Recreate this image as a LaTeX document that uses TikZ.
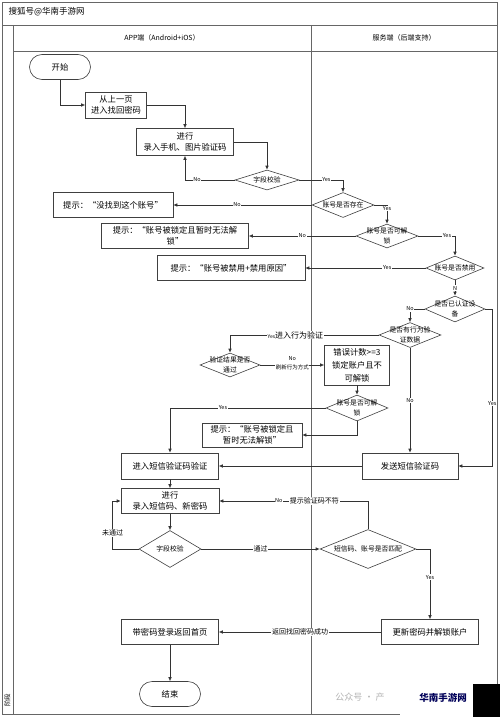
\documentclass[tikz,border=0pt]{standalone}
\usepackage{fontspec}
\setmainfont{Noto Sans CJK SC}
\usetikzlibrary{shapes.geometric,shapes.misc,arrows.meta}
\begin{document}
\begin{tikzpicture}[x=1pt,y=-1pt,
 box/.style={draw=black!75,line width=0.6pt,fill=white,align=center,inner sep=1pt,font=\fontsize{8.3}{11}\selectfont},
 term/.style={box,rounded rectangle,minimum width=63pt,minimum height=25pt},
 dia/.style={diamond,draw=black!75,line width=0.6pt,fill=white,inner sep=0pt},
 dtxt/.style={align=center,inner sep=0pt,font=\fontsize{6.8}{9.5}\selectfont},
 arr/.style={draw=black!80,line width=0.6pt,-{Latex[length=4pt,width=3.5pt]}},
 lbl/.style={fill=white,inner sep=0.6pt,font=\fontsize{5.5}{6}\selectfont},
 lbl2/.style={fill=white,inner sep=0.6pt,font=\fontsize{7}{8}\selectfont},
 frame/.style={draw=black!60,line width=0.8pt}]
\useasboundingbox (0,0) rectangle (500,717);
% frame
\draw[frame] (2,2) rectangle (497,714);
\draw[frame] (2,25) -- (497,25);
\draw[frame] (13,25) -- (13,714);
\draw[frame] (13,51) -- (497,51);
\draw[frame] (311,25) -- (311,714);
\node[anchor=west,font=\fontsize{8.5}{9}\selectfont] (title) at (5,12) {搜狐号@华南手游网};
\node[font=\fontsize{7}{8}\selectfont] (hdr1) at (162,38) {APP端（Android+iOS）};
\node[font=\fontsize{7}{8}\selectfont] (hdr2) at (404,38) {服务端（后端支持）};
\node[rotate=90,font=\fontsize{6.5}{7}\selectfont] (phase) at (7.5,700) {阶段};

% nodes
\node[term] (start) at (60,67) {开始};
\node[box,minimum width=61pt,minimum height=26pt] (prev) at (116,105) {从上一页\\进入找回密码};
\node[box,minimum width=97pt,minimum height=27pt] (enter1) at (185,142) {进行\\录入手机、图片验证码};
\node[dia,minimum width=64pt,minimum height=20pt] (chk1) at (267,180) {};
\node[dtxt] (chk1t) at (chk1) {字段校验};
\node[dia,minimum width=62pt,minimum height=25pt] (exist) at (343,205) {};
\node[dtxt] (existt) at (exist) {账号是否存在};
\node[box,minimum width=120pt,minimum height=25pt] (notfound) at (113,205) {提示：“没找到这个账号”};
\node[dia,minimum width=62pt,minimum height=24pt] (unlock1) at (387,236) {};
\node[dtxt] (unlock1t) at (unlock1) {账号是否可解\\锁};
\node[box,minimum width=147pt,minimum height=25pt] (locked1) at (175,236) {提示：“账号被锁定且暂时无法解\\锁”};
\node[dia,minimum width=58pt,minimum height=24pt] (banned) at (455,268) {};
\node[dtxt] (bannedt) at (banned) {账号是否禁用};
\node[box,minimum width=148pt,minimum height=25pt] (bannedmsg) at (231,268) {提示：“账号被禁用+禁用原因”};
\node[dia,minimum width=60pt,minimum height=26pt] (device) at (455,309) {};
\node[dtxt] (devicet) at (device) {是否已认证设\\备};
\node[dia,minimum width=62pt,minimum height=25pt] (behav) at (410,335) {};
\node[dtxt] (behavt) at (behav) {是否有行为验\\证数据};
\node[dia,minimum width=60pt,minimum height=24pt] (verify) at (230,365) {};
\node[dtxt] (verifyt) at (verify) {验证结果是否\\通过};
\node[box,minimum width=65pt,minimum height=40pt,font=\fontsize{8.3}{13}\selectfont] (errcount) at (357,365) {错误计数>=3\\锁定账户且不\\可解锁};
\node[dia,minimum width=62pt,minimum height=26pt] (unlock2) at (357,408) {};
\node[dtxt] (unlock2t) at (unlock2) {账号是否可解\\锁};
\node[box,minimum width=100pt,minimum height=24pt] (locked2) at (252,435) {提示：“账号被锁定且\\暂时无法解锁”};
\node[box,minimum width=97pt,minimum height=26pt] (smsenter) at (170,466) {进入短信验证码验证};
\node[box,minimum width=96pt,minimum height=26pt] (sendsms) at (410,466) {发送短信验证码};
\node[box,minimum width=98pt,minimum height=25pt] (enter2) at (170,501) {进行\\录入短信码、新密码};
\node[dia,minimum width=62pt,minimum height=37pt] (chk2) at (170,549) {};
\node[dtxt] (chk2t) at (chk2) {字段校验};
\node[dia,minimum width=96pt,minimum height=39pt] (match) at (368,549) {};
\node[dtxt] (matcht) at (match) {短信码、账号是否匹配};
\node[box,minimum width=97pt,minimum height=25pt] (update) at (430,632) {更新密码并解锁账户};
\node[box,minimum width=97pt,minimum height=25pt] (home) at (170,632) {带密码登录返回首页};
\node[term] (end) at (170,694) {结束};

% connectors
\draw[arr] (start.south) |- (prev.west);
\draw[arr] (prev.east) -| (enter1.north);
\draw[arr] (enter1.east) -| (chk1.north);
\draw[arr] (chk1.west) -| node[lbl,pos=0.38]{No} (enter1.south);
\draw[arr] (chk1.east) -| node[lbl,pos=0.31]{Yes} (exist.north);
\draw[arr] (exist.west) -- node[lbl,pos=0.54]{No} (notfound.east);
\draw[arr] (exist.east) -| node[lbl,pos=0.6]{Yes} (unlock1.north);
\draw[arr] (unlock1.west) -- node[lbl,pos=0.5]{No} (locked1.east);
\draw[arr] (unlock1.east) -| node[lbl,pos=0.39]{Yes} (banned.north);
\draw[arr] (banned.west) -- node[lbl,pos=0.32]{Yes} (bannedmsg.east);
\draw[arr] (banned.south) -- node[lbl,pos=0.5]{N} (device.north);
\draw[arr] (device.west) -| node[lbl,pos=0.5]{No} (behav.north);
\draw[arr] (device.east) -- ++(7,0) |- node[lbl,pos=0.3]{Yes} (sendsms.east);
\draw[arr] (behav.west) -| node[lbl,pos=0.28]{{\fontsize{5}{6}\selectfont Yes}{\fontsize{8}{9}\selectfont 进入行为验证}} (verify.north);
\draw[arr] (verify.east) -- node[lbl,pos=0.5,yshift=-2pt]{刷新行为方式} node[lbl,pos=0.5,yshift=6pt]{No} (errcount.west);
\draw[arr] (errcount.south) -- (unlock2.north);
\draw[arr] (unlock2.west) -| node[lbl,pos=0.33]{Yes} (smsenter.north);
\draw[arr] (unlock2.south) |- (locked2.east);
\draw[arr] (behav.south) -- node[lbl,pos=0.5]{No} (sendsms.north);
\draw[arr] (sendsms.west) -- (smsenter.east);
\draw[arr] (smsenter.south) -- (enter2.north);
\draw[arr] (enter2.south) -- (chk2.north);
\draw[arr] (chk2.west) -- ++(-26,0) |- node[lbl2,pos=0.17]{未通过} (enter2.west);
\draw[arr] (chk2.east) -- node[lbl2,pos=0.5]{通过} (match.west);
\draw[arr] (match.north) |- node[lbl2,pos=0.68]{提示验证码不符} node[lbl,pos=0.8]{No} (enter2.east);
\draw[arr] (match.east) -| node[lbl,pos=0.7]{Yes} (update.north);
\draw[arr] (update.west) -- node[lbl2,pos=0.5]{返回找回密码成功} (home.east);
\draw[arr] (home.south) -- (end.north);

% watermark
\node[text=black!30,font=\fontsize{9}{10}\selectfont] (wm) at (360,697) {公众号 · 产};
\fill[white] (400,686) rectangle (473,716);
\fill[black] (473,684) rectangle (500,717);
\node[text=blue!35!black,font=\bfseries\fontsize{9.5}{10}\selectfont] (logo) at (443,698) {华南手游网};
\end{tikzpicture}
\end{document}
